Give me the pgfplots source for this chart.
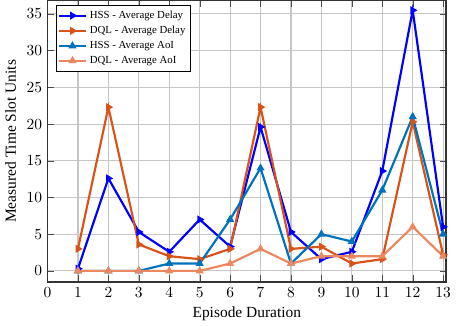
\documentclass[border=0pt]{standalone}
\usepackage{fontspec}
\setmainfont{Liberation Serif}
\usepackage{pgfplots}
\pgfplotsset{compat=1.18}
\definecolor{cA}{RGB}{0,0,255}
\definecolor{cB}{RGB}{217,83,25}
\definecolor{cC}{RGB}{0,114,189}
\definecolor{cD}{RGB}{236,136,96}
\begin{document}
\begin{tikzpicture}
\begin{axis}[
  scale only axis,
  width=258pt, height=182pt,
  xmin=0, xmax=13.1, ymin=-1.5, ymax=36.8,
  xtick={0,1,...,13}, ytick={0,5,...,35},
  grid=major,
  major grid style={gray!45, line width=0.7pt},
  axis line style={line width=0.9pt, black!80},
  tick style={black!70},
  xlabel={Episode Duration},
  ylabel={Measured Time Slot Units},
  label style={font=\normalsize},
  xlabel style={yshift=1pt},
  ylabel style={yshift=0pt},
  legend pos=north west,
  legend style={font=\scriptsize, draw=black, line width=0.5pt, inner sep=1.5pt, row sep=-0.5pt, at={(0.02,0.985)}},
  legend cell align=left,
  every axis plot/.append style={line width=1.4pt, mark size=1.7pt},
]
\addplot[color=cA, mark=triangle*, mark options={rotate=-90, solid}] coordinates {
(1,0.3)(2,12.6)(3,5.3)(4,2.6)(5,7.0)(6,3.3)(7,19.6)(8,5.3)(9,1.6)(10,2.6)(11,13.6)(12,35.5)(13,6.0)};
\addlegendentry{HSS - Average Delay}
\addplot[color=cB, mark=triangle*, mark options={rotate=-90, solid}] coordinates {
(1,3.0)(2,22.3)(3,3.6)(4,2.0)(5,1.6)(6,3.0)(7,22.3)(8,3.0)(9,3.3)(10,1.0)(11,1.6)(12,20.3)(13,2.2)};
\addlegendentry{DQL - Average Delay}
\addplot[color=cC, mark=triangle*, mark options={solid}] coordinates {
(1,0)(2,0)(3,0)(4,1)(5,1)(6,7)(7,14)(8,1)(9,5)(10,4)(11,11)(12,21)(13,5)};
\addlegendentry{HSS - Average AoI}
\addplot[color=cD, mark=triangle*, mark options={solid}] coordinates {
(1,0)(2,0)(3,0)(4,0)(5,0)(6,1)(7,3)(8,1)(9,2)(10,2)(11,2)(12,6)(13,2)};
\addlegendentry{DQL - Average AoI}
\end{axis}
\end{tikzpicture}
\end{document}
